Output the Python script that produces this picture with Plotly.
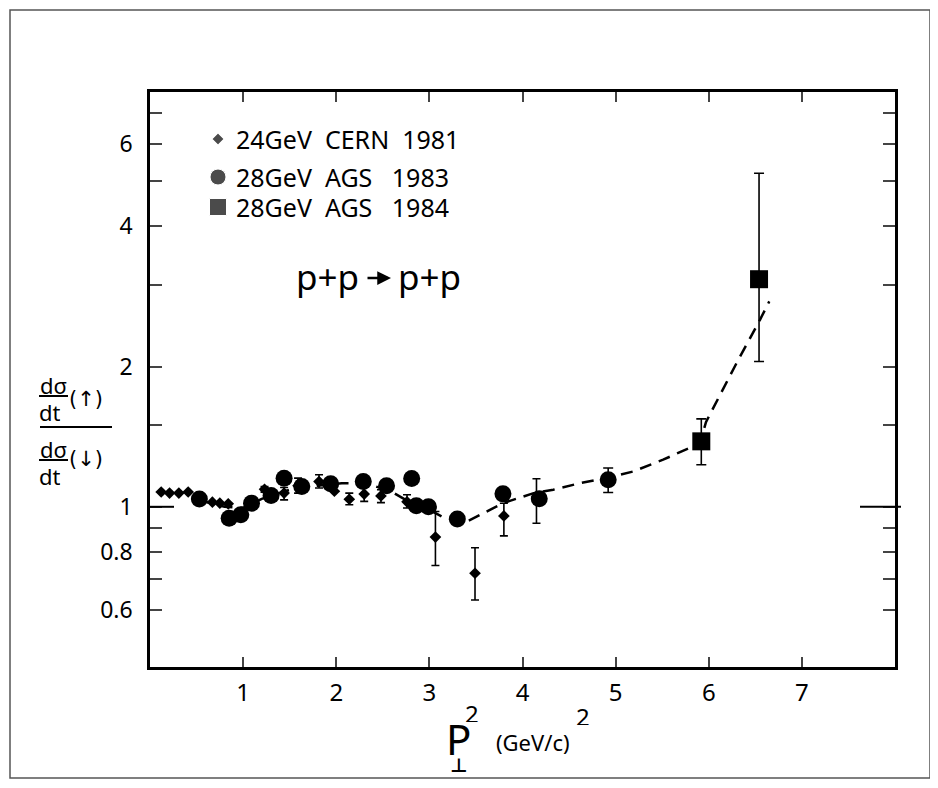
import math
import plotly.graph_objects as go

# ---------------- data ----------------
# 24 GeV CERN 1981 (diamonds)
cern_x = [0.12, 0.21, 0.31, 0.41, 0.67, 0.75, 0.84, 1.23, 1.44, 1.59, 1.815, 1.98, 2.14, 2.30, 2.48, 2.76, 3.065, 3.49, 3.80, 4.15]
cern_y = [1.076, 1.07, 1.07, 1.076, 1.023, 1.018, 1.015, 1.09, 1.07, 1.11, 1.133, 1.08, 1.038, 1.065, 1.055, 1.025, 0.861, 0.720, 0.956, 1.05]
cern_hi = [None, None, None, None, None, None, None, 1.105, 1.10, 1.152, 1.172, None, 1.07, 1.104, 1.088, 1.061, 0.977, 0.817, 1.018, 1.149]
cern_lo = [None, None, None, None, None, None, None, 1.075, 1.035, 1.07, 1.097, None, 1.01, 1.027, 1.021, 0.994, 0.748, 0.631, 0.866, 0.922]

# 28 GeV AGS 1983 (circles)
ags83_x = [0.53, 0.85, 0.975, 1.09, 1.30, 1.44, 1.63, 1.94, 2.29, 2.54, 2.81, 2.86, 2.99, 3.30, 3.79, 4.18, 4.92]
ags83_y = [1.039, 0.945, 0.961, 1.018, 1.058, 1.152, 1.105, 1.121, 1.133, 1.11, 1.15, 1.005, 1.0, 0.941, 1.066, 1.04, 1.143]
ags83_hi = [None] * 16 + [1.211]
ags83_lo = [None] * 16 + [1.073]

# 28 GeV AGS 1984 (squares)
ags84_x = [5.92, 6.54]
ags84_y = [1.382, 3.08]
ags84_hi = [1.544, 5.2]
ags84_lo = [1.231, 2.05]

# dashed curve
curve_x = [0.55, 0.8, 1.0, 1.2, 1.5, 1.8, 2.06, 2.2, 2.4, 2.6, 2.8, 3.0, 3.17, 3.3, 3.42, 3.55, 3.66, 3.79,
           4.12, 4.33, 4.62, 4.92, 5.19, 5.51, 5.83, 5.92, 5.97, 6.3, 6.55, 6.65]
curve_y = [1.03, 1.0, 0.995, 1.04, 1.088, 1.11, 1.124, 1.124, 1.11, 1.076, 1.02, 0.985, 0.945, 0.936, 0.933,
           0.961, 0.989, 1.018, 1.07, 1.088, 1.124, 1.155, 1.191, 1.262, 1.348, 1.40, 1.52, 2.037, 2.52, 2.76]

x_ticks = [1, 2, 3, 4, 5, 6, 7]
y_ticks = [0.6, 0.7, 0.8, 0.9, 1, 1.5, 2, 3, 4, 5, 6, 7]
y_ticktext = ["0.6", "", "0.8", "", "1", "", "2", "", "4", "", "6", ""]

legend_labels = ["24GeV\u00a0\u00a0CERN\u00a0\u00a01981",
                 "28GeV\u00a0\u00a0AGS\u00a0\u00a0\u00a01983",
                 "28GeV\u00a0\u00a0AGS\u00a0\u00a0\u00a01984"]

# ---------------- layout geometry (reference pixel coords; page adds 8px body margin) ----------------
OFF = 8
W, H = 930, 780
L, R, T, B = 150, 895, 92, 667
PW, PH = R - L, B - T


def pxx(x):
    return (x - L) / PW


def pyy(y):
    return (B - y) / PH


FONT = "Noto Sans"


def split_err(xs, ys, hi, lo):
    ex, ey, ep, em = [], [], [], []
    nx, ny = [], []
    for x, y, h, l in zip(xs, ys, hi, lo):
        if h is None:
            nx.append(x)
            ny.append(y)
        else:
            ex.append(x)
            ey.append(y)
            ep.append(h - y)
            em.append(y - l)
    return nx, ny, ex, ey, ep, em


fig = go.Figure()

fig.add_trace(go.Scatter(x=curve_x, y=curve_y, mode="lines",
                         line=dict(color="black", width=2.5, dash="12px,8px"),
                         hoverinfo="skip", showlegend=False))


def add_series(xs, ys, hi, lo, symbol, size, capw):
    nx, ny, ex, ey, ep, em = split_err(xs, ys, hi, lo)
    if nx:
        fig.add_trace(go.Scatter(x=nx, y=ny, mode="markers",
                                 marker=dict(symbol=symbol, size=size, color="black"),
                                 showlegend=False))
    if ex:
        fig.add_trace(go.Scatter(x=ex, y=ey, mode="markers",
                                 marker=dict(symbol=symbol, size=size, color="black"),
                                 error_y=dict(type="data", symmetric=False, array=ep, arrayminus=em,
                                              color="black", thickness=1.6, width=capw),
                                 showlegend=False))


add_series(cern_x, cern_y, cern_hi, cern_lo, "diamond", 9, 4)
add_series(ags83_x, ags83_y, ags83_hi, ags83_lo, "circle", 17, 5)
add_series(ags84_x, ags84_y, ags84_hi, ags84_lo, "square", 18, 5)

# legend markers on an overlay axis in paper-like units
leg_y = [139, 177, 207]
leg_sym = ["diamond", "circle", "square"]
leg_size = [9, 16, 17]
fig.add_trace(go.Scatter(x=[pxx(218)] * 3, y=[pyy(v) for v in leg_y], mode="markers",
                         marker=dict(symbol=leg_sym, size=leg_size, color="black"),
                         xaxis="x2", yaxis="y2", showlegend=False, hoverinfo="skip"))

annotations = []


def txt(text, x, y, size, anchor="center", family=FONT, height=None):
    a = dict(x=pxx(x), y=pyy(y), xref="paper", yref="paper", text=text,
             showarrow=False, xanchor=anchor, yanchor="middle",
             font=dict(family=family, size=size, color="black"))
    if height is not None:
        a["height"] = height
    annotations.append(a)


for lab, yv in zip(legend_labels, leg_y):
    txt(lab, 234, yv, 25, anchor="left", height=26)

# reaction p+p -> p+p
txt("p+p", 327, 276, 35)
txt("p+p", 429, 276, 35)
annotations.append(dict(x=pxx(391), y=pyy(278), xref="paper", yref="paper",
                        ax=-25, ay=0, text="", showarrow=True, arrowhead=2,
                        arrowsize=1.1, arrowwidth=2.5, arrowcolor="black", standoff=0))

# y axis label (fraction)
txt("d\u03c3", 53, 385, 22, height=22)
txt("dt", 50, 412, 22, height=22)
txt("(\u2191)", 86, 399, 21, family="DejaVu Sans", height=24)
txt("d\u03c3", 53, 449, 22, height=22)
txt("dt", 50, 476, 22, height=22)
txt("(\u2193)", 86, 459, 21, family="DejaVu Sans", height=24)

# x axis title
txt("P", 458, 738, 42, height=34)
txt("<b>\u22a5</b>", 458, 765, 19, family="DejaVu Sans", height=14)
txt("2", 472, 713, 24, height=18)
txt("(GeV/c)", 533, 742, 22)
txt("2", 583, 716, 24, height=18)

shapes = []
# outer frame
shapes.append(dict(type="rect", xref="paper", yref="paper", x0=pxx(10), x1=pxx(930), y0=pyy(10), y1=pyy(778),
                   line=dict(color="#555555", width=1.5), layer="below"))
# fraction bars
shapes.append(dict(type="line", xref="paper", yref="paper", x0=pxx(40), x1=pxx(112), y0=pyy(427), y1=pyy(427),
                   line=dict(color="black", width=2)))
shapes.append(dict(type="line", xref="paper", yref="paper", x0=pxx(39), x1=pxx(68), y0=pyy(396), y1=pyy(396),
                   line=dict(color="black", width=2)))
shapes.append(dict(type="line", xref="paper", yref="paper", x0=pxx(39), x1=pxx(68), y0=pyy(460), y1=pyy(460),
                   line=dict(color="black", width=2)))
# long ticks at 1
shapes.append(dict(type="line", xref="paper", yref="y", x0=0, x1=pxx(174), y0=1, y1=1,
                   line=dict(color="black", width=2)))
shapes.append(dict(type="line", xref="paper", yref="y", x0=pxx(860), x1=pxx(901), y0=1, y1=1,
                   line=dict(color="black", width=2)))

fig.update_layout(
    width=W, height=H,
    margin=dict(l=L - OFF, r=W - (R - OFF), t=T - OFF, b=H - (B - OFF), pad=0),
    paper_bgcolor="white", plot_bgcolor="white",
    showlegend=False,
    font=dict(family=FONT, color="black"),
    xaxis=dict(range=[0, 8], tickvals=x_ticks, ticks="inside", ticklen=10, tickwidth=2,
               showline=True, linewidth=2.5, linecolor="black", mirror="ticks",
               showgrid=False, zeroline=False, tickfont=dict(size=24, family=FONT),
               ticklabelstandoff=2),
    yaxis=dict(type="log", range=[math.log10(0.453), math.log10(7.77)], tickvals=y_ticks, ticktext=y_ticktext,
               ticks="inside", ticklen=12, tickwidth=2, showline=True, linewidth=2.5, linecolor="black",
               mirror="ticks", showgrid=False, zeroline=False, tickfont=dict(size=23, family=FONT),
               ticklabelstandoff=10),
    xaxis2=dict(range=[0, 1], overlaying="x", visible=False, fixedrange=True),
    yaxis2=dict(range=[0, 1], overlaying="y", visible=False, fixedrange=True),
    annotations=annotations,
    shapes=shapes,
)

fig.write_html("out.html")
